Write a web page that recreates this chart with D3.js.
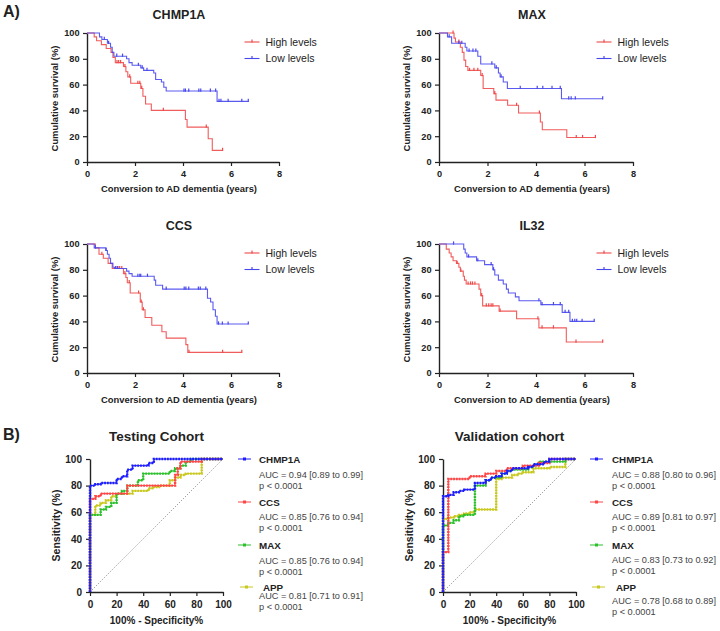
<!DOCTYPE html>
<html>
<head>
<meta charset="utf-8">
<script src="https://cdn.jsdelivr.net/npm/d3@7"></script>
<style>
body { margin: 0; background: #fff; }
svg { font-family: "Liberation Sans", Arial, sans-serif; }
</style>
</head>
<body>
<div id="fig"></div>
<script>
// ---- Kaplan-Meier data: [time (years), survival %] steps, censor times ----
const kmTicksX = [0, 2, 4, 6, 8];
const kmTicksY = [0, 20, 40, 60, 80, 100];
const groupLabels = ["High levels", "Low levels"];

const chmp1aHigh = [[0,100],[0.3,97],[0.4,94],[0.6,91],[0.8,88],[1.0,85],[1.08,81],[1.18,77],[1.52,74],[1.62,70],[1.7,66],[1.82,61],[2.24,57],[2.33,51],[2.44,45],[2.68,40],[4.1,33],[4.17,27],[5.05,18],[5.22,9]];
const chmp1aHighCens = [1.25,1.32,1.4,1.58,1.78,2.12,2.2,2.28,3.18,4.97,5.65];
const chmp1aLow = [[0,100],[0.52,97],[0.62,95],[0.85,92],[0.98,89],[1.05,85],[1.12,82],[1.65,80],[1.75,77],[1.88,75],[2.24,73],[2.36,71],[2.78,69],[2.86,64],[3.1,62],[3.2,58],[3.3,55],[5.42,47]];
const chmp1aLowCens = [0.72,0.9,1.24,1.48,2.14,2.3,2.5,4.04,4.1,4.24,4.66,4.74,5.14,5.36,5.5,5.58,5.88,6.45,6.72];

const maxHigh = [[0,100],[0.62,96],[0.68,93],[0.88,89],[0.96,85],[1.03,79],[1.1,74],[1.19,71],[1.72,67],[1.82,57],[2.26,53],[2.35,48],[2.83,44],[3.28,38],[4.18,31],[4.26,25],[5.27,19]];
const maxHighCens = [0.58,0.82,1.26,1.44,1.6,1.78,2.3,3.2,4.14,5.66,5.92,6.45];
const maxLow = [[0,100],[0.35,97],[0.52,92],[1.08,89],[1.15,86],[1.6,82],[1.72,76],[2.3,73],[2.45,69],[2.52,66],[2.65,62],[2.82,57],[5.05,49]];
const maxLowCens = [0.42,0.82,0.94,1.24,1.4,1.52,2.18,2.36,2.56,3.35,4.05,4.28,4.66,5.0,5.35,5.45,5.62,6.75];

const ccsHigh = [[0,100],[0.35,97],[0.5,92],[0.68,89],[0.88,85],[1.05,81],[1.52,77],[1.62,74],[1.68,70],[1.8,62],[2.22,55],[2.3,49],[2.42,43],[2.7,37],[3.12,32],[3.3,27],[4.12,22],[4.2,16]];
const ccsHighCens = [0.62,1.2,1.28,1.36,1.45,1.58,1.76,2.15,2.26,2.35,4.25,5.65,6.45];
const ccsLow = [[0,100],[0.3,97],[0.78,95],[0.85,92],[0.92,89],[0.98,85],[1.08,82],[1.15,81],[1.65,79],[1.75,77],[1.88,75],[2.8,72],[2.86,68],[3.15,65],[5.02,58],[5.15,55],[5.25,49],[5.35,44],[5.42,38]];
const ccsLowCens = [0.35,0.8,1.2,1.28,2.12,2.2,2.24,2.52,3.3,4.05,4.12,4.24,4.64,4.72,4.95,5.48,5.64,5.88,6.72];

const il32High = [[0,100],[0.3,96],[0.42,93],[0.5,90],[0.58,87],[0.72,85],[0.82,82],[0.88,79],[1.0,75],[1.05,72],[1.12,69],[1.65,65],[1.72,60],[1.8,52],[2.48,48],[3.2,42],[4.12,35],[5.25,24]];
const il32HighCens = [0.75,0.9,1.2,1.3,1.38,1.48,1.76,1.95,2.05,2.15,2.22,2.52,4.08,4.25,4.72,5.65,6.75];
const il32Low = [[0,100],[1.02,96],[1.08,93],[1.15,90],[1.55,87],[1.88,84],[2.22,80],[2.3,76],[2.45,72],[2.65,69],[2.78,65],[2.86,62],[3.15,59],[3.3,56],[4.2,53],[5.08,47],[5.4,40]];
const il32LowCens = [0.6,1.22,1.6,2.15,2.25,4.12,4.25,4.72,5.0,5.2,5.35,5.5,5.6,5.68,5.9,6.4];

// ---- ROC data: [100% - specificity, sensitivity] vertices ----
const rocTicks = [0, 20, 40, 60, 80, 100];
const rocMarkers = ["CHMP1A", "CCS", "MAX", "APP"];

const testChmp1a = [[0,0],[0,80],[4,80],[4,81],[8,81],[8,82],[20,82],[20,85],[24,85],[24,87],[28,87],[28,92],[32,92],[32,95],[44,95],[44,97],[48,97],[48,100],[100,100]];
const testCcs = [[0,0],[0,70],[4,70],[4,72],[8,72],[8,74],[28,74],[28,80],[64,80],[64,88],[66,88],[66,93],[68,93],[68,98],[84,98],[84,100],[100,100]];
const testMax = [[0,0],[0,58],[8,58],[8,62],[12,62],[12,64],[16,64],[16,67],[20,67],[20,74],[24,74],[24,76],[28,76],[28,80],[36,80],[36,84],[40,84],[40,89],[60,89],[60,91],[64,91],[64,93],[68,93],[68,95],[72,95],[72,98],[76,98],[76,100],[100,100]];
const testApp = [[0,0],[0,58],[4,58],[4,65],[8,65],[8,67],[12,67],[12,69],[16,69],[16,72],[20,72],[20,74],[32,74],[32,76],[44,76],[44,78],[48,78],[48,79],[52,79],[52,80],[60,80],[60,84],[64,84],[64,86],[68,86],[68,88],[72,88],[72,89],[84,89],[84,100],[100,100]];
const testAuc = ["AUC = 0.94 [0.89 to 0.99]", "AUC = 0.85 [0.76 to 0.94]", "AUC = 0.85 [0.76 to 0.94]", "AUC = 0.81 [0.71 to 0.91]"];

const valChmp1a = [[0,0],[0,72],[4,72],[4,73],[8,73],[8,75],[12,75],[12,76],[16,76],[16,77],[24,77],[24,82],[32,82],[32,84],[36,84],[36,86],[40,86],[40,87],[44,87],[44,89],[48,89],[48,91],[52,91],[52,93],[64,93],[64,94],[68,94],[68,96],[76,96],[76,98],[80,98],[80,100],[100,100]];
const valCcs = [[0,0],[0,30],[4,30],[4,85],[20,85],[20,87],[32,87],[32,89],[40,89],[40,91],[48,91],[48,93],[60,93],[60,95],[72,95],[72,97],[80,97],[80,100],[100,100]];
const valMax = [[0,0],[0,50],[4,50],[4,52],[8,52],[8,54],[12,54],[12,57],[16,57],[16,58],[24,58],[24,80],[32,80],[32,84],[36,84],[36,86],[44,86],[44,89],[48,89],[48,91],[52,91],[52,92],[64,92],[64,94],[68,94],[68,96],[72,96],[72,98],[92,98],[92,100],[100,100]];
const valApp = [[0,0],[0,55],[4,55],[4,56],[8,56],[8,57],[12,57],[12,58],[16,58],[16,59],[20,59],[20,60],[24,60],[24,62],[40,62],[40,85],[44,85],[44,86],[52,86],[52,88],[56,88],[56,89],[60,89],[60,90],[68,90],[68,93],[80,93],[80,94],[92,94],[92,100],[100,100]];
const valAuc = ["AUC = 0.88 [0.80 to 0.96]", "AUC = 0.89 [0.81 to 0.97]", "AUC = 0.83 [0.73 to 0.92]", "AUC = 0.78 [0.68 to 0.89]"];
const pText = "p < 0.0001";

const kmColors = ["#ef4a4a", "#4848ee"];
const rocColors = ["#1c1cff", "#ff4545", "#2cc02c", "#c8c81e"];
const ink = "#222";

const W = 720, H = 631;
const svg = d3.select("#fig").append("svg").attr("width", W).attr("height", H);

svg.append("text").attr("x", 3).attr("y", 17).attr("font-size", 16).attr("font-weight", "bold").attr("fill", ink).text("A)");
svg.append("text").attr("x", 3).attr("y", 440).attr("font-size", 16).attr("font-weight", "bold").attr("fill", ink).text("B)");

function survAt(steps, t) {
  let s = steps[0][1];
  steps.forEach(d => { if (d[0] <= t) s = d[1]; });
  return s;
}

function styleAxis(g) {
  g.select(".domain").attr("stroke", ink).attr("stroke-width", 1.4);
  g.selectAll(".tick line").attr("stroke", ink).attr("stroke-width", 1.2);
  g.selectAll(".tick text").attr("fill", ink).attr("font-weight", "bold");
}

const kmPanels = [
  { name: "CHMP1A", data: [[chmp1aHigh, chmp1aHighCens], [chmp1aLow, chmp1aLowCens]], left: 87, right: 279, bottom: 162, top: 33 },
  { name: "MAX", data: [[maxHigh, maxHighCens], [maxLow, maxLowCens]], left: 439, right: 633, bottom: 162, top: 33 },
  { name: "CCS", data: [[ccsHigh, ccsHighCens], [ccsLow, ccsLowCens]], left: 87, right: 279, bottom: 373, top: 244 },
  { name: "IL32", data: [[il32High, il32HighCens], [il32Low, il32LowCens]], left: 439, right: 633, bottom: 373, top: 244 }
];

kmPanels.forEach(p => {
  const x = d3.scaleLinear().domain([0, 8]).range([p.left, p.right]);
  const y = d3.scaleLinear().domain([0, 100]).range([p.bottom, p.top]);
  const g = svg.append("g");

  g.append("g").attr("transform", `translate(0,${p.bottom})`)
    .call(d3.axisBottom(x).tickValues(kmTicksX).tickSize(4).tickPadding(4.5).tickSizeOuter(0))
    .attr("font-size", 9.2).attr("font-family", null).call(styleAxis);
  g.append("g").attr("transform", `translate(${p.left},0)`)
    .call(d3.axisLeft(y).tickValues(kmTicksY).tickSize(4).tickPadding(3.5).tickSizeOuter(0))
    .attr("font-size", 9.2).attr("font-family", null).call(styleAxis);

  const mid = (p.left + p.right) / 2 - 4;
  g.append("text").attr("x", mid).attr("y", p.top - 14).attr("text-anchor", "middle")
    .attr("font-size", 12.5).attr("font-weight", "bold").attr("fill", ink).text(p.name);
  g.append("text").attr("x", mid).attr("y", p.bottom + 30).attr("text-anchor", "middle")
    .attr("font-size", 9.4).attr("font-weight", "bold").attr("fill", ink).text("Conversion to AD dementia (years)");
  g.append("text").attr("transform", `translate(${p.left - 29},${(p.top + p.bottom) / 2 + 1}) rotate(-90)`)
    .attr("text-anchor", "middle").attr("font-size", 9.4).attr("font-weight", "bold").attr("fill", ink)
    .text("Cumulative survival (%)");

  const line = d3.line().x(d => x(d[0])).y(d => y(d[1])).curve(d3.curveStepAfter);
  p.data.forEach((grp, i) => {
    const steps = grp[0], cens = grp[1];
    const tEnd = Math.max(d3.max(cens), steps[steps.length - 1][0]);
    const pts = steps.concat([[tEnd, steps[steps.length - 1][1]]]);
    g.append("path").attr("d", line(pts)).attr("fill", "none")
      .attr("stroke", kmColors[i]).attr("stroke-width", 1.1).attr("opacity", 0.9);
    g.selectAll(null).data(cens).enter().append("line")
      .attr("x1", d => x(d)).attr("x2", d => x(d))
      .attr("y1", d => y(survAt(steps, d)) - 2.6).attr("y2", d => y(survAt(steps, d)) + 0.6)
      .attr("stroke", kmColors[i]).attr("stroke-width", 1.2);

    // legend
    const ly = p.top + 9 + i * 16.5;
    const lx = p.left + 157.5;
    g.append("line").attr("x1", lx).attr("x2", lx + 15).attr("y1", ly).attr("y2", ly)
      .attr("stroke", kmColors[i]).attr("stroke-width", 1.1);
    g.append("line").attr("x1", lx + 7.5).attr("x2", lx + 7.5).attr("y1", ly - 2.6).attr("y2", ly + 0.6)
      .attr("stroke", kmColors[i]).attr("stroke-width", 1.2);
    g.append("text").attr("x", lx + 21).attr("y", ly + 3.7).attr("font-size", 10.5)
      .attr("fill", ink).text(groupLabels[i]);
  });
});

// ---- ROC panels ----
const rocPanels = [
  { name: "Testing Cohort", curves: [testChmp1a, testCcs, testMax, testApp], auc: testAuc,
    left: 90, right: 223, legX: 238, labX: 259, appShift: 2, aucY: [475, 517, 561, 596], pY: [485.5, 527.5, 571.5, 606.5] },
  { name: "Validation cohort", curves: [valChmp1a, valCcs, valMax, valApp], auc: valAuc,
    left: 443, right: 576, legX: 590, labX: 612, appShift: 2, aucY: [475, 517, 560, 601], pY: [485.5, 527.5, 570.5, 611.5] }
];
const rocTop = 459, rocBottom = 592;
const legRowY = [459, 502, 545, 587];

rocPanels.forEach(p => {
  const x = d3.scaleLinear().domain([0, 100]).range([p.left, p.right]);
  const y = d3.scaleLinear().domain([0, 100]).range([rocBottom, rocTop]);
  const g = svg.append("g");

  g.append("g").attr("transform", `translate(0,${rocBottom})`)
    .call(d3.axisBottom(x).tickValues(rocTicks).tickSize(4).tickPadding(5).tickSizeOuter(0))
    .attr("font-size", 10).attr("font-family", null).call(styleAxis);
  g.append("g").attr("transform", `translate(${p.left},0)`)
    .call(d3.axisLeft(y).tickValues(rocTicks).tickSize(4).tickPadding(4).tickSizeOuter(0))
    .attr("font-size", 10).attr("font-family", null).call(styleAxis);

  const mid = (p.left + p.right) / 2;
  g.append("text").attr("x", mid).attr("y", 441).attr("text-anchor", "middle")
    .attr("font-size", 13.5).attr("font-weight", "bold").attr("fill", ink).text(p.name);
  g.append("text").attr("x", mid).attr("y", 624).attr("text-anchor", "middle")
    .attr("font-size", 10).attr("font-weight", "bold").attr("fill", ink).text("100% - Specificity%");
  g.append("text").attr("transform", `translate(${p.left - 30},${(rocTop + rocBottom) / 2}) rotate(-90)`)
    .attr("text-anchor", "middle").attr("font-size", 10.5).attr("font-weight", "bold").attr("fill", ink)
    .text("Sensitivity (%)");

  // chance line
  g.append("line").attr("x1", x(0)).attr("y1", y(0)).attr("x2", x(100)).attr("y2", y(100))
    .attr("stroke", "#777").attr("stroke-width", 0.8).attr("stroke-dasharray", "1.2,1.6");

  const line = d3.line().x(d => x(d[0])).y(d => y(d[1]));
  [3, 2, 1, 0].forEach(i => {
    const pts = p.curves[i];
    g.append("path").attr("d", line(pts)).attr("fill", "none")
      .attr("stroke", rocColors[i]).attr("stroke-width", 1);
    g.append("path").attr("d", line(pts)).attr("fill", "none")
      .attr("stroke", rocColors[i]).attr("stroke-width", 2.4).attr("stroke-dasharray", "1.8,1");
  });

  rocMarkers.forEach((m, i) => {
    const ly = legRowY[i];
    const sh = i === 3 ? p.appShift : 0;
    g.append("line").attr("x1", p.legX + sh).attr("x2", p.legX + sh + 13).attr("y1", ly).attr("y2", ly)
      .attr("stroke", rocColors[i]).attr("stroke-width", 1);
    g.append("rect").attr("x", p.legX + sh + 5).attr("y", ly - 1.5).attr("width", 3).attr("height", 3)
      .attr("fill", rocColors[i]);
    g.append("text").attr("x", p.labX + sh * 2).attr("y", ly + 3.5).attr("font-size", 9.8)
      .attr("font-weight", "bold").attr("fill", ink).text(m);
    g.append("text").attr("x", p.labX).attr("y", p.aucY[i] + 3.3).attr("font-size", 9.2)
      .attr("fill", "#444").text(p.auc[i]);
    g.append("text").attr("x", p.labX).attr("y", p.pY[i] + 3.3).attr("font-size", 9.2)
      .attr("fill", "#444").text(pText);
  });
});
</script>
</body>
</html>
